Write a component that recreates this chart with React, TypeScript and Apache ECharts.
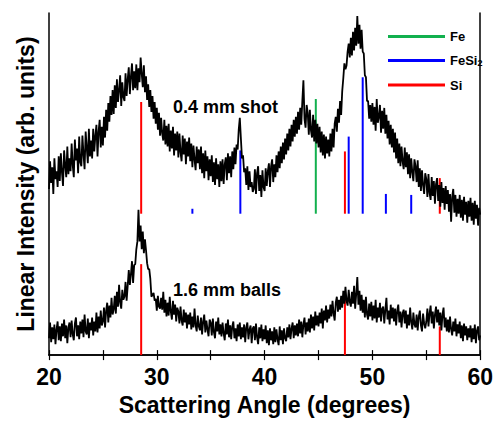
import React, { useEffect, useRef } from "react";
import * as echarts from "echarts";

// Sampling grid: 20.0° to 60.0° in 0.1° steps (401 points per pattern)
const ANGLE_START_TENTHS = 200;

// 0.4 mm shot pattern (arb. units), one row per degree
const shot04: number[] = [
  168, 196, 174, 190, 163, 199, 178, 186, 170, 201,
  176, 204, 185, 171, 207, 192, 180, 211, 183, 199,
  186, 214, 192, 180, 218, 197, 209, 184, 221, 195,
  191, 222, 203, 188, 226, 210, 194, 229, 201, 217,
  199, 229, 206, 222, 233, 201, 226, 238, 210, 231,
  212, 241, 220, 248, 227, 255, 236, 262, 243, 268,
  244, 273, 250, 279, 256, 268, 283, 252, 276, 261,
  257, 285, 262, 279, 291, 264, 282, 295, 268, 287,
  270, 294, 268, 290, 276, 301, 285, 271, 293, 266,
  282, 258, 274, 251, 268, 246, 262, 239, 256, 234,
  250, 228, 245, 222, 240, 224, 217, 238, 213, 232,
  211, 234, 206, 227, 209, 231, 202, 224, 207, 226,
  200, 224, 205, 196, 222, 203, 219, 193, 216, 201,
  220, 196, 214, 190, 212, 198, 187, 211, 194, 208,
  188, 211, 184, 204, 179, 207, 186, 201, 177, 198,
  181, 202, 175, 195, 172, 199, 178, 193, 170, 196,
  176, 198, 173, 193, 200, 177, 204, 184, 201, 180,
  206, 188, 210, 193, 213, 208, 228, 240, 219, 199,
  202, 185, 189, 172, 191, 167, 186, 170, 175, 165,
  168, 188, 163, 184, 191, 166, 182, 160, 187, 170,
  166, 189, 171, 186, 194, 170, 191, 198, 175, 193,
  180, 202, 185, 206, 189, 211, 194, 215, 198, 219,
  203, 224, 207, 229, 211, 233, 216, 238, 221, 241,
  224, 246, 228, 250, 233, 257, 278, 239, 230, 253,
  245, 223, 248, 227, 220, 243, 216, 238, 214, 234,
  210, 231, 205, 226, 202, 223, 199, 221, 204, 218,
  201, 224, 206, 229, 210, 234, 241, 226, 249, 235,
  257, 243, 267, 280, 295, 289, 293, 307, 315, 301,
  321, 303, 327, 308, 331, 313, 343, 315, 334, 310,
  329, 307, 305, 283, 281, 257, 257, 239, 253, 236,
  255, 233, 251, 227, 259, 235, 241, 253, 225, 247,
  229, 250, 224, 243, 219, 237, 213, 233, 210, 229,
  205, 225, 199, 219, 194, 214, 191, 211, 196, 188,
  210, 190, 205, 183, 203, 179, 199, 185, 176, 198,
  191, 175, 197, 170, 189, 166, 187, 172, 163, 184,
  178, 160, 183, 164, 157, 180, 161, 176, 153, 173,
  179, 156, 172, 150, 175, 154, 169, 147, 171, 153,
  167, 145, 163, 135, 160, 168, 144, 162, 140, 158,
  143, 162, 139, 157, 136, 160, 142, 155, 134, 156,
  140, 159, 136, 154, 132, 156, 138, 152, 131, 149,
  142,
];

// 1.6 mm balls pattern (arb. units), one row per degree
const balls16: number[] = [
  17, 33, 13, 28, 16, 31, 11, 26, 34, 15,
  29, 14, 32, 19, 36, 17, 30, 12, 28, 33,
  18, 35, 21, 15, 32, 38, 19, 30, 16, 34,
  22, 36, 18, 41, 24, 21, 37, 17, 33, 25,
  38, 20, 34, 24, 43, 23, 39, 27, 45, 30,
  34, 48, 28, 45, 53, 33, 50, 38, 58, 41,
  46, 60, 42, 64, 49, 71, 53, 47, 66, 56,
  59, 74, 55, 70, 86, 71, 82, 95, 73, 91,
  92, 107, 115, 147, 115, 131, 107, 125, 103, 117,
  106, 93, 87, 87, 77, 59, 61, 63, 55, 57,
  45, 60, 49, 47, 58, 46, 64, 43, 56, 39,
  53, 40, 59, 44, 36, 55, 41, 51, 34, 48,
  44, 32, 49, 35, 30, 46, 33, 43, 27, 41,
  31, 43, 26, 39, 28, 47, 30, 24, 40, 29,
  25, 38, 21, 34, 41, 23, 35, 26, 19, 36,
  33, 20, 37, 23, 17, 34, 24, 38, 21, 31,
  19, 33, 22, 15, 32, 21, 36, 18, 30, 16,
  29, 34, 17, 27, 14, 31, 19, 33, 16, 28,
  18, 31, 13, 28, 33, 16, 26, 30, 12, 27,
  29, 15, 32, 18, 11, 28, 17, 31, 14, 26,
  16, 30, 12, 25, 10, 27, 15, 24, 11, 28,
  13, 26, 16, 10, 29, 15, 25, 11, 27, 17,
  14, 28, 18, 31, 16, 27, 33, 17, 30, 20,
  32, 19, 36, 22, 34, 18, 31, 38, 21, 33,
  24, 37, 23, 41, 27, 39, 25, 44, 30, 40,
  29, 43, 32, 47, 27, 45, 35, 50, 33, 46,
  37, 51, 39, 55, 42, 35, 53, 59, 44, 56,
  46, 60, 48, 65, 52, 69, 55, 50, 66, 54,
  49, 64, 52, 70, 47, 62, 79, 51, 65, 45,
  61, 43, 56, 38, 59, 41, 36, 52, 39, 54,
  35, 50, 37, 56, 33, 48, 38, 53, 34, 47,
  49, 32, 46, 58, 36, 45, 31, 51, 37, 48,
  34, 47, 30, 45, 51, 33, 44, 28, 42, 46,
  32, 45, 27, 41, 30, 48, 33, 26, 43, 31,
  28, 41, 25, 39, 45, 30, 24, 42, 32, 27,
  34, 47, 29, 42, 50, 32, 44, 27, 41, 49,
  33, 46, 30, 43, 25, 41, 48, 28, 38, 24,
  36, 23, 39, 26, 20, 34, 24, 37, 19, 31,
  22, 34, 17, 30, 14, 32, 20, 29, 15, 27,
  18, 30, 13, 27, 16, 31, 12, 25, 29, 15,
  20,
];

// Reference peak positions (degrees) and stick heights (arb. units)
const fePositions = [44.75];
const feHeights = [259];
const fesi2Positions = [33.3, 37.75, 47.8, 49.1, 51.25, 53.6];
const fesi2Heights = [148, 207, 221, 281, 163, 162];
const siPositions = [28.55, 47.45, 56.25];
const siHeightsShot = [256, 206, 179];
const siHeightsBalls = [92, 61, 29];
const stickBaseShot = 143;
const stickBaseBalls = 0;

const xTicks = [20, 30, 40, 50, 60];
const legendNames = ["Fe", "FeSi2", "Si"];
const FONT = '"Liberation Sans", Arial, sans-serif';

const COLORS: Record<string, string> = { Fe: "#12b04e", FeSi2: "#0000ff", Si: "#ff0000" };

const toXY = (arr: number[]) => arr.map((v, i) => [(ANGLE_START_TENTHS + i) / 10, v]);

function sticks(name: string, xs: number[], tops: number[], base: number) {
  return xs.map((x, i) => ({
    type: "line",
    name,
    data: [
      [x, base],
      [x, tops[i]],
    ],
    symbol: "none",
    showSymbol: false,
    lineStyle: { color: COLORS[name], width: 2 },
    itemStyle: { color: COLORS[name] },
    z: 2,
    silent: true,
  }));
}

export default function App() {
  const ref = useRef<HTMLDivElement>(null);
  useEffect(() => {
    document.body.style.margin = "0";
    const chart = echarts.init(ref.current!, null, { renderer: "svg" });
    const axisLine = { show: true, lineStyle: { color: "#000", width: 1.5 } };
    chart.setOption({
      animation: false,
      backgroundColor: "#fff",
      grid: { left: 49, right: 14, top: 13, bottom: 62 },
      legend: {
        data: legendNames,
        orient: "vertical",
        left: 383,
        top: 25,
        itemWidth: 57,
        itemHeight: 3,
        itemGap: 11,
        icon: "rect",
        selectedMode: false,
        formatter: (n: string) => (n === "FeSi2" ? "{m|FeSi}{s|2}" : "{m|" + n + "}"),
        textStyle: {
          rich: {
            m: { fontSize: 13, fontWeight: "bold", fontFamily: FONT, color: "#000", lineHeight: 14 },
            s: { fontSize: 9, fontWeight: "bold", fontFamily: FONT, color: "#000", lineHeight: 9, verticalAlign: "bottom", padding: [4, 0, 0, 0] },
          },
        },
      },
      xAxis: [
        {
          type: "value",
          min: 20,
          max: 60,
          interval: 5,
          position: "bottom",
          name: "Scattering Angle (degrees)",
          nameLocation: "middle",
          nameGap: 36,
          nameTextStyle: { fontSize: 23, fontWeight: "bold", fontFamily: FONT, color: "#000" },
          axisLine,
          axisTick: { show: true, inside: true, length: 5, lineStyle: { color: "#000", width: 1.2 } },
          axisLabel: {
            margin: 10,
            fontSize: 23,
            fontWeight: "bold",
            fontFamily: FONT,
            color: "#000",
            formatter: (v: number) => (xTicks.includes(v) ? String(v) : ""),
          },
          splitLine: { show: false },
        },
        {
          type: "value",
          min: 20,
          max: 60,
          interval: 5,
          position: "top",
          axisLine,
          axisTick: { show: true, inside: true, length: 5, lineStyle: { color: "#000", width: 1.2 } },
          axisLabel: { show: false },
          splitLine: { show: false },
        },
      ],
      yAxis: [
        {
          type: "value",
          min: 0,
          max: 346,
          position: "left",
          name: "Linear Intensity (arb. units)",
          nameLocation: "middle",
          nameGap: 12,
          nameTextStyle: { fontSize: 23, fontWeight: "bold", fontFamily: FONT, color: "#000" },
          axisLine,
          axisTick: { show: false },
          axisLabel: { show: false },
          splitLine: { show: false },
        },
        {
          type: "value",
          min: 0,
          max: 346,
          position: "right",
          axisLine,
          axisTick: { show: false },
          axisLabel: { show: false },
          splitLine: { show: false },
        },
      ],
      graphic: [
        { type: "text", left: 173, top: 98, style: { text: "0.4 mm shot", font: `bold 18px ${FONT}`, fill: "#000" } },
        { type: "text", left: 173, top: 281, style: { text: "1.6 mm balls", font: `bold 18px ${FONT}`, fill: "#000" } },
      ],
      series: [
        ...sticks("Fe", fePositions, feHeights, stickBaseShot),
        ...sticks("FeSi2", fesi2Positions, fesi2Heights, stickBaseShot),
        ...sticks("Si", siPositions, siHeightsShot, stickBaseShot),
        ...sticks("Si", siPositions, siHeightsBalls, stickBaseBalls),
        {
          type: "line",
          name: "0.4 mm shot",
          data: toXY(shot04),
          symbol: "none",
          showSymbol: false,
          lineStyle: { color: "#000", width: 1.8 },
          itemStyle: { color: "#000" },
          z: 3,
          silent: true,
        },
        {
          type: "line",
          name: "1.6 mm balls",
          data: toXY(balls16),
          symbol: "none",
          showSymbol: false,
          lineStyle: { color: "#000", width: 1.8 },
          itemStyle: { color: "#000" },
          z: 3,
          silent: true,
        },
      ],
    });
    return () => chart.dispose();
  }, []);
  return <div ref={ref} style={{ width: 496, height: 421 }} />;
}
